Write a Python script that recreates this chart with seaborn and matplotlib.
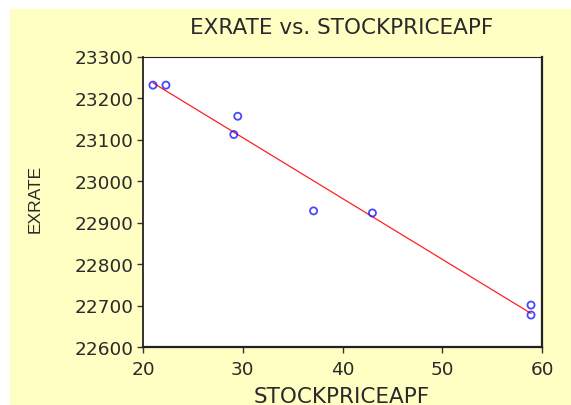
import matplotlib
matplotlib.use("Agg")
import matplotlib.pyplot as plt
from matplotlib.patches import Rectangle
import seaborn as sns
import pandas as pd

stockprice_apf = [21.0, 22.3, 29.5, 29.1, 37.1, 43.0, 58.9, 58.9]
exrate = [23231, 23231, 23156, 23112, 22928, 22923, 22701, 22677]
x_ticks = [20, 30, 40, 50, 60]
y_ticks = [22600, 22700, 22800, 22900, 23000, 23100, 23200, 23300]

df = pd.DataFrame({"STOCKPRICEAPF": stockprice_apf, "EXRATE": exrate})

sns.set_theme(style="white")
plt.rcParams["font.family"] = ["DejaVu Sans"]

fig = plt.figure(figsize=(5.71, 4.06), dpi=100)
fig.patch.set_facecolor("white")
# pale yellow panel behind the chart
fig.patches.append(Rectangle((10 / 571, 0), 1 - 10 / 571, 1 - 10 / 406,
                             transform=fig.transFigure, facecolor="#FFFFC4",
                             edgecolor="none", zorder=-10))

ax = fig.add_axes([143 / 571, 1 - 348 / 406, (542 - 143) / 571, (348 - 57.5) / 406])
ax.set_facecolor("white")
ax.set_zorder(1)

sns.regplot(data=df, x="STOCKPRICEAPF", y="EXRATE", ax=ax, ci=None,
            truncate=True,
            scatter_kws=dict(marker="o", s=26, facecolors="none",
                             edgecolors="#1A1AFF", linewidths=1.3, zorder=3),
            line_kws=dict(color="#FF2020", linewidth=0.9, zorder=2))

ax.set_xlim(20, 60)
ax.set_ylim(22600, 23300)
ax.set_xticks(x_ticks)
ax.set_yticks(y_ticks)
ax.tick_params(axis="both", direction="out", length=4.5, width=1, color="#333333",
               labelsize=13.3, labelcolor="#2a2a2a", bottom=True, left=True)
ax.tick_params(axis="x", pad=5)
ax.tick_params(axis="y", pad=2)

for side in ["left", "bottom", "right", "top"]:
    ax.spines[side].set_visible(True)
    ax.spines[side].set_color("#222222")
ax.spines["left"].set_linewidth(1.3)
ax.spines["bottom"].set_linewidth(1.6)
ax.spines["right"].set_linewidth(1.6)
ax.spines["top"].set_linewidth(0.8)

ax.set_xlabel("STOCKPRICEAPF", fontsize=15.5, color="#2a2a2a")
ax.xaxis.set_label_coords((342 - 143) / 399, -(397 - 348) / 290.5)
ax.xaxis.label.set_va("center")
ax.set_ylabel("EXRATE", fontsize=12.5, color="#2a2a2a",
              family=["Liberation Sans", "DejaVu Sans"])
ax.yaxis.set_label_coords(-(143 - 35) / 399, (348 - 199) / 290.5)
ax.yaxis.label.set_va("center")
fig.text(342 / 571, 1 - 27.5 / 406, "EXRATE vs. STOCKPRICEAPF", ha="center",
         va="center", fontsize=15.5, color="#2a2a2a")

fig.savefig("out.png", dpi=100, facecolor=fig.get_facecolor())
